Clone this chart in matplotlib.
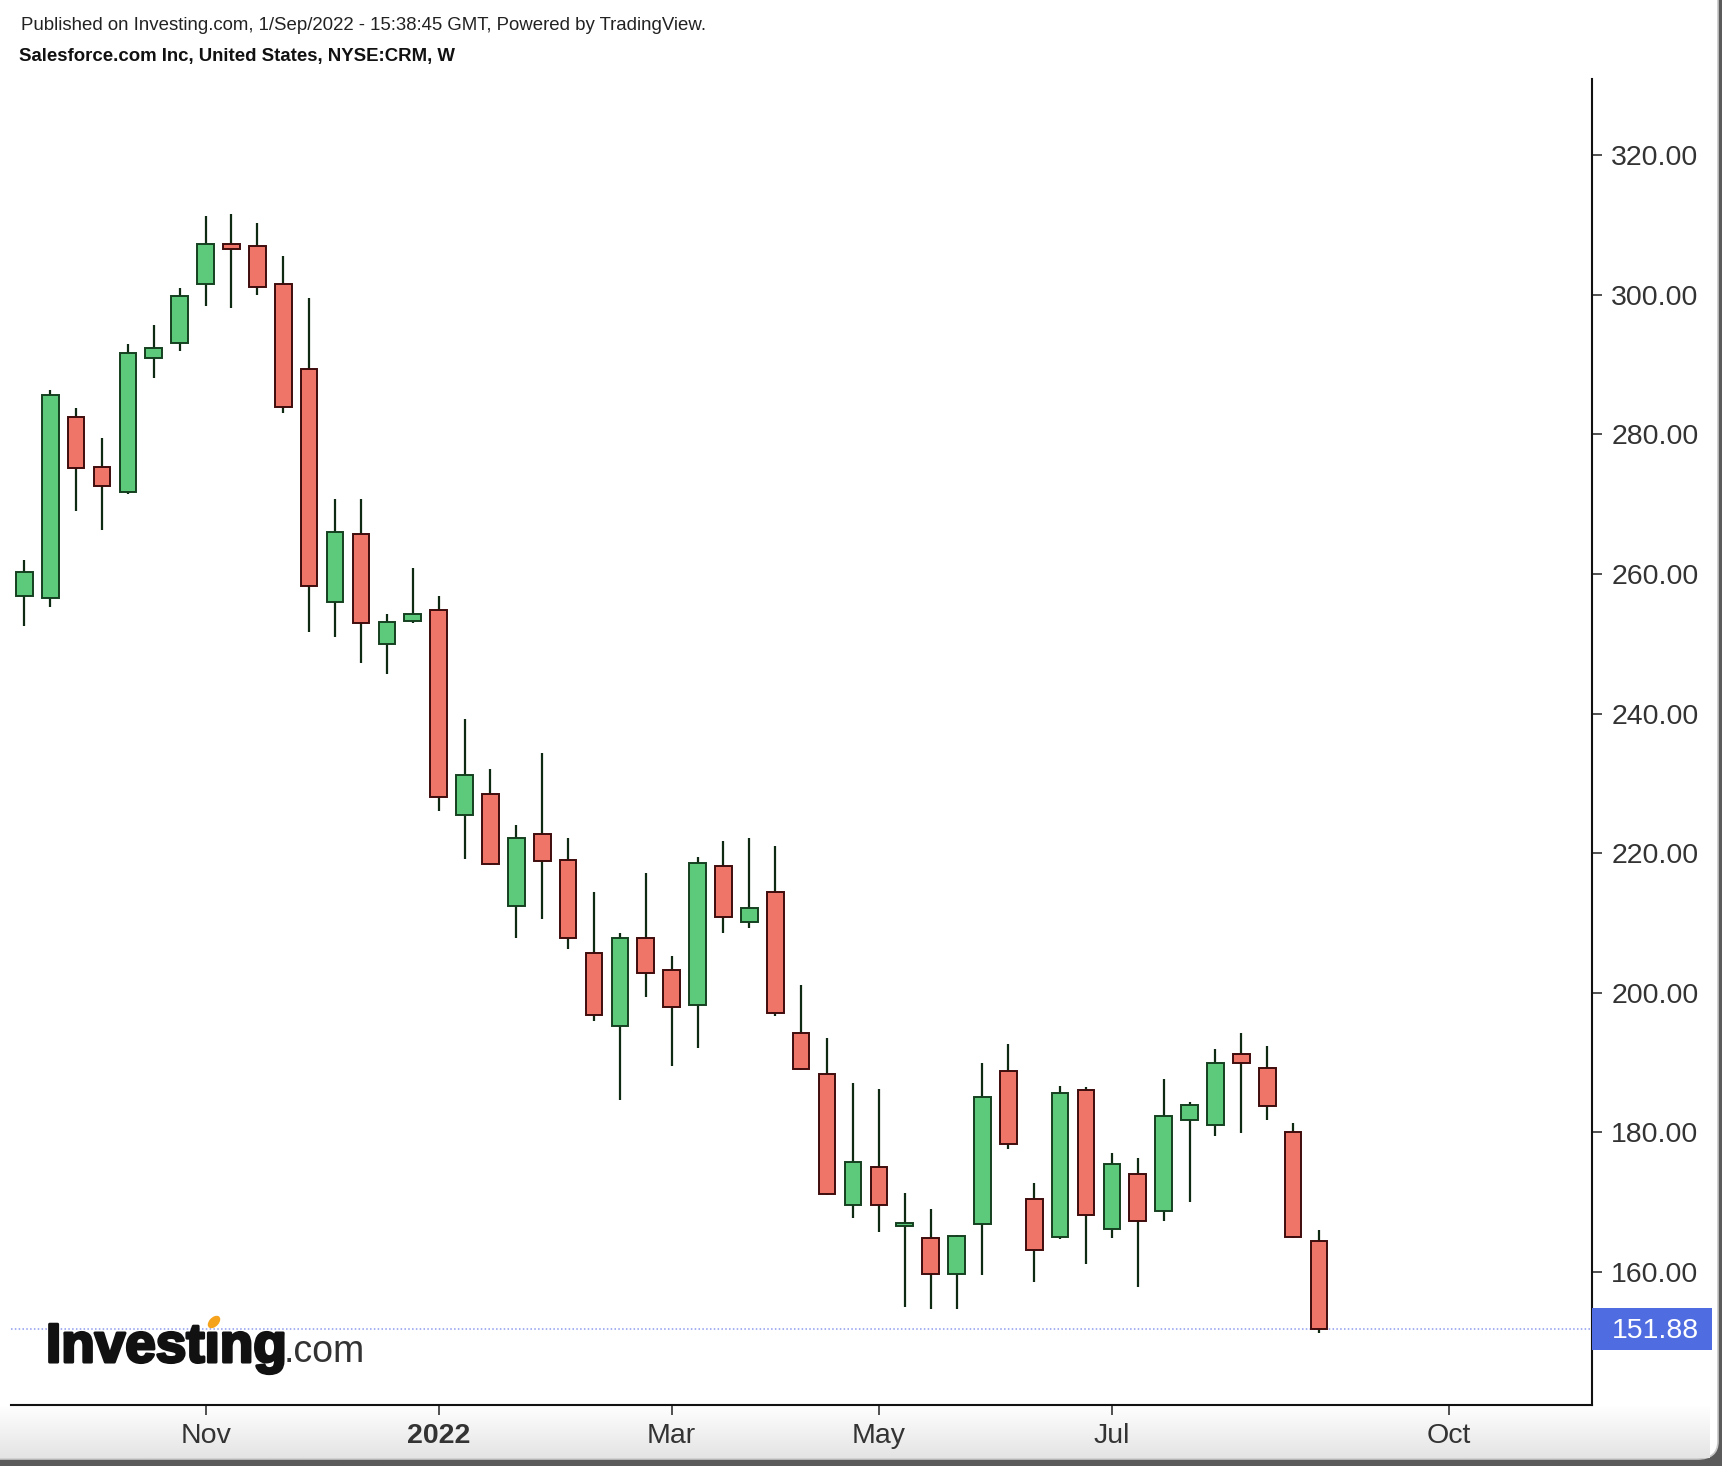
import numpy as np
import pandas as pd
import matplotlib
matplotlib.use("Agg")
import matplotlib.pyplot as plt
import matplotlib.dates as mdates
import matplotlib.patheffects as pe
from matplotlib.patches import Rectangle, FancyBboxPatch, Ellipse
from matplotlib.transforms import blended_transform_factory

plt.rcParams['font.family'] = ['Liberation Sans', 'DejaVu Sans']

# weekly bars, Sep 13 2021 -> Aug 29 2022
weeks = pd.date_range('2021-09-13', periods=51, freq='W-MON')

opens = [256.8, 256.5, 282.5, 275.3, 271.8, 290.9, 293.1, 301.6, 307.3, 307.0,
         301.6, 289.4, 256.0, 265.7, 249.9, 253.3, 254.9, 225.4, 228.5, 212.4,
         222.8, 219.0, 205.7, 195.3, 207.9, 203.3, 198.3, 218.2, 210.2, 214.5,
         194.2, 188.4, 169.6, 175.1, 166.6, 164.8, 159.7, 166.9, 188.8, 170.5,
         165.0, 186.1, 166.2, 174.0, 168.8, 181.8, 181.1, 191.2, 189.2, 180.0,
         164.4]
highs = [262.0, 286.4, 283.7, 279.5, 292.9, 295.6, 301.0, 311.3, 311.6, 310.2,
         305.5, 299.5, 270.7, 270.7, 254.3, 260.8, 256.8, 239.2, 232.0, 224.0,
         234.3, 222.1, 214.5, 208.5, 217.1, 205.3, 219.5, 221.7, 222.1, 221.0,
         201.1, 193.5, 187.0, 186.2, 171.3, 169.0, 165.3, 190.0, 192.7, 172.8,
         186.6, 186.5, 177.1, 176.3, 187.7, 184.3, 191.9, 194.3, 192.3, 181.3,
         166.0]
lows = [252.6, 255.3, 269.0, 266.3, 271.5, 288.1, 291.9, 298.4, 298.1, 299.9,
        283.1, 251.7, 251.0, 247.2, 245.6, 253.0, 226.1, 219.2, 218.3, 207.8,
        210.5, 206.3, 195.9, 184.6, 199.4, 189.5, 192.1, 208.6, 209.3, 196.7,
        189.0, 171.0, 167.7, 165.7, 155.0, 154.7, 154.7, 159.6, 177.6, 158.5,
        164.7, 161.1, 164.9, 157.8, 167.3, 170.0, 179.5, 179.9, 181.8, 164.9,
        151.2]
closes = [260.3, 285.6, 275.2, 272.6, 291.7, 292.4, 299.8, 307.3, 306.5, 301.1,
          283.9, 258.3, 266.0, 253.0, 253.1, 254.2, 228.1, 231.2, 218.5, 222.1,
          218.9, 207.8, 196.8, 207.9, 202.9, 197.9, 218.6, 210.9, 212.1, 197.1,
          189.1, 171.2, 175.8, 169.6, 167.0, 159.7, 165.1, 185.0, 178.4, 163.1,
          185.7, 168.1, 175.4, 167.3, 182.3, 183.9, 190.0, 189.9, 183.8, 165.0,
          151.88]

last_price = 151.88
yticks = [160, 180, 200, 220, 240, 260, 280, 300, 320]
xtick_dates = ['2021-11-01', '2022-01-03', '2022-03-07', '2022-05-02', '2022-07-04', '2022-10-03']
xtick_labels = ['Nov', '2022', 'Mar', 'May', 'Jul', 'Oct']

up_col, up_edge = '#5cc97b', '#15401f'
dn_col, dn_edge = '#ef7568', '#3f0c0c'
wick_col = '#0e2a12'

W, H = 1722, 1466
fig = plt.figure(figsize=(W / 100, H / 100), dpi=100, facecolor='#5b5b5b')

# card background
card = FancyBboxPatch((-20 / W, 7 / H), (W + 16) / W, (H + 20) / H,
                      boxstyle='round,pad=0,rounding_size=0.012',
                      transform=fig.transFigure, facecolor='white',
                      edgecolor='#c8c8c8', lw=1.2, zorder=-3)
fig.patches.append(card)
gax = fig.add_axes([0, 8 / H, 1 - 12 / W, 52 / H], zorder=-1)
grad = np.linspace(0, 1, 50)[:, None]
gax.imshow(grad, aspect='auto', cmap=matplotlib.colors.LinearSegmentedColormap.from_list('g', ['#e4e4e4', '#ffffff']),
           extent=[0, 1, 0, 1], origin='lower')
gax.axis('off')

ax = fig.add_axes([11 / W, 1 - 1404.6 / H, (1592.4 - 11) / W, (1404.6 - 79) / H])
ax.set_facecolor('white')

x = mdates.date2num(weeks)
o = np.array(opens); c = np.array(closes)
hi = np.array(highs); lo = np.array(lows)
up = c >= o

ax.vlines(x, lo, hi, color=wick_col, lw=1.6, zorder=2)
body_lo = np.minimum(o, c)
body_h = np.maximum(np.abs(c - o), 0.35)
ax.bar(x[up], body_h[up], bottom=body_lo[up], width=4.5, color=up_col,
       edgecolor=up_edge, linewidth=1.4, zorder=3)
ax.bar(x[~up], body_h[~up], bottom=body_lo[~up], width=4.5, color=dn_col,
       edgecolor=dn_edge, linewidth=1.4, zorder=3)

# last price line and label
ax.axhline(last_price, color='#8d9bef', lw=1.1, ls=(0, (1, 1.5)), zorder=1)
tr = blended_transform_factory(ax.transAxes, ax.transData)
ax.add_patch(Rectangle((1.0, last_price - 3.0), 120 / 1581.4, 6.0, transform=tr,
                       facecolor='#4f6ce0', edgecolor='none', clip_on=False, zorder=5))
ax.text(1.0 + 19 / 1581.4, last_price - 0.3, f'{last_price:.2f}', transform=tr, color='white',
        fontsize=20.5, ha='left', va='center', clip_on=False, zorder=6)

ax.set_xlim(weeks[0] - pd.Timedelta(days=3.6), weeks[-1] + pd.Timedelta(days=73.9))
ax.set_ylim(141.0, 330.9)

ax.yaxis.tick_right()
ax.set_yticks(yticks)
ax.set_yticklabels([f'{v:.2f}' for v in yticks])
ax.set_xticks(mdates.date2num(pd.to_datetime(xtick_dates)))
ax.set_xticklabels(xtick_labels)
ax.tick_params(axis='both', colors='#222222', labelcolor='#333333', labelsize=20.5,
               length=7, width=1.1, pad=6.5, direction='out')
for lab in ax.get_xticklabels():
    if lab.get_text() == '2022':
        lab.set_fontweight('bold')

for s in ['top', 'left']:
    ax.spines[s].set_visible(False)
for s in ['right', 'bottom']:
    ax.spines[s].set_color('#111111')
    ax.spines[s].set_linewidth(1.5)

# header
fig.text(21 / W, 1 - 25 / H, 'Published on Investing.com, 1/Sep/2022 - 15:38:45 GMT, Powered by TradingView.',
         fontsize=13.4, color='#222222', va='center', ha='left')
fig.text(19 / W, 1 - 56 / H, 'Salesforce.com Inc, United States, NYSE:CRM, W',
         fontsize=13.4, fontweight='bold', color='#111111', va='center', ha='left')

# logo: "Investing" with an orange dot on the second i
renderer = fig.canvas.get_renderer()
logo_kw = dict(fontsize=39.5, fontweight='bold', color='#111111', va='baseline', ha='left', zorder=10,
               path_effects=[pe.withStroke(linewidth=2.2, foreground='#111111')])
lx, ly = 46, 1362
fig.text(lx / W, 1 - ly / H, 'Invest\u0131ng', **logo_kw)
tmp = fig.text(lx / W, 1 - ly / H, 'Invest', **logo_kw)
x_a = tmp.get_window_extent(renderer).x1
tmp.remove()
tmp = fig.text(lx / W, 1 - ly / H, 'Invest\u0131', **logo_kw)
x_b = tmp.get_window_extent(renderer).x1
tmp.remove()
tmp = fig.text(lx / W, 1 - ly / H, 'Invest\u0131ng', **logo_kw)
x_end = tmp.get_window_extent(renderer).x1
tmp.remove()
dot_x = (x_a + x_b) / 2 + 2
dot_y = (H - ly) + 40
fig.patches.append(Ellipse((dot_x / W, dot_y / H), 10 / W, 14 / H, angle=-35,
                           transform=fig.transFigure, facecolor='#f5a31c', edgecolor='none', zorder=11))
fig.text((x_end - 3) / W, 1 - ly / H, '.com', fontsize=27, color='#333333',
         va='baseline', ha='left', zorder=10)

fig.savefig('out.png', dpi=100, facecolor=fig.get_facecolor())
